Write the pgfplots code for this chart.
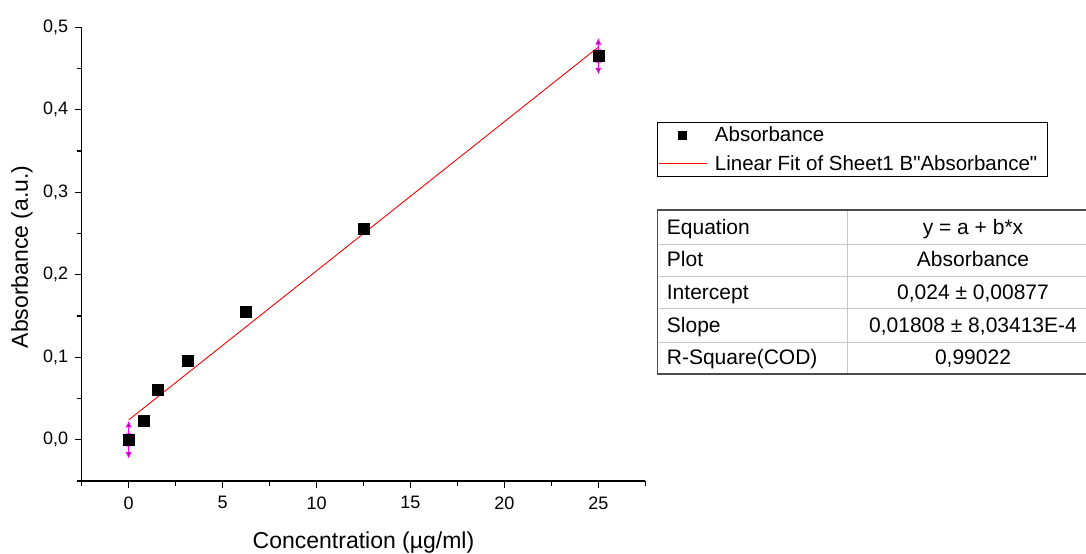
\documentclass[border=0pt]{standalone}
\usepackage{pgfplots}
\pgfplotsset{compat=1.18}
\usepackage{fontspec}
\setmainfont{Liberation Sans}[Ligatures=TeXOff]
\usetikzlibrary{arrows.meta}
\definecolor{outerc}{gray}{0.3}
\definecolor{innerc}{gray}{0.78}
\definecolor{magentaerr}{RGB}{255,0,255}
\definecolor{fitred}{RGB}{255,0,0}
\pgfplotsset{
  scatlegend/.style={legend image code/.code={\draw[mark repeat=2,mark phase=2,mark size=4bp,##1] plot coordinates {(0bp,0bp) (24bp,0bp) (48bp,0bp)};}},
  linelegend/.style={legend image code/.code={\draw[##1, draw=fitred] (0bp,0bp) -- (48bp,0bp);}},
}
\begin{document}
\begin{tikzpicture}
\useasboundingbox (0bp,0bp) rectangle (1086bp,554bp);
\begin{axis}[
  at={(81.7bp,73bp)}, anchor=south west, scale only axis,
  width=563.6bp, height=453.7bp,
  xmin=-2.5, xmax=27.5, ymin=-0.05, ymax=0.5,
  axis lines*=left,
  axis line style={line width=1.4bp, -},
  every tick/.style={black, line width=1.4bp},
  tick align=outside,
  major tick length=7bp, minor tick length=5bp,
  xtick={0,5,10,15,20,25},
  minor xtick={-2.5,2.5,7.5,12.5,17.5,22.5,27.5},
  ytick={0,0.1,0.2,0.3,0.4,0.5},
  minor ytick={-0.05,0.05,0.15,0.25,0.35,0.45},
  /pgf/number format/assume math mode=true,
  ticklabel style={font=\fontsize{18bp}{21bp}\selectfont},
  xticklabel style={yshift=-5bp},
  yticklabel style={xshift=-3bp, /pgf/number format/.cd, use comma, fixed, fixed zerofill, precision=1},
  xlabel={Concentration (µg/ml)},
  ylabel={Absorbance (a.u.)},
  label style={font=\fontsize{23bp}{27bp}\selectfont},
  xlabel style={at={(axis description cs:0.5,-0.135)}, anchor=center},
  ylabel style={at={(axis description cs:-0.106,0.494)}, anchor=center},
  clip=false,
  legend cell align=left,
  legend style={at={(1.0202,0.7919)}, anchor=north west, draw=black, line width=0.8bp,
    font=\fontsize{20.5bp}{24bp}\selectfont, inner xsep=1bp, inner ysep=2bp,
    nodes={inner xsep=2bp, inner ysep=3bp}, row sep=6bp,
    /tikz/every odd column/.append style={column sep=6bp}},
]
\addplot[only marks, mark=square*, mark size=5.5bp, black, scatlegend]
  coordinates {(0,0) (0.78125,0.0234) (1.5625,0.061) (3.125,0.096) (6.25,0.155) (12.5,0.256) (25,0.465)};
\addlegendentry{Absorbance}
\addplot[color=fitred, draw=fitred, line width=0.9bp, mark=none, linelegend]
  coordinates {(0,0.024) (25,0.476)};
\addlegendentry{Linear Fit of Sheet1 B"Absorbance"\hspace*{7bp}}
\addplot[forget plot, only marks, mark=none,
  error bars/.cd, y dir=both, y explicit, error mark=none,
  error bar style={draw=magentaerr, line width=1.2bp, {Latex[length=6.5bp,width=6.5bp]}-{Latex[length=6.5bp,width=6.5bp]}}]
  coordinates {(0,0) +- (0,0.023) (25,0.465) +- (0,0.022)};
\end{axis}
% statistics table
\draw[innerc, line width=1bp] (847.3bp,180bp) -- (847.3bp,344bp);
\foreach \yy in {309.7,277.3,245,211.7} \draw[innerc, line width=1bp] (657.7bp,\yy bp) -- (1099bp,\yy bp);
\draw[outerc, line width=1.3bp] (657.7bp,180bp) rectangle (1099bp,344bp);
\begin{scope}[every node/.style={font=\fontsize{21bp}{25bp}\selectfont, inner sep=0pt}]
\node[anchor=base west] at (666.7bp,319.4bp) {Equation};
\node[anchor=base west] at (666.7bp,287bp) {Plot};
\node[anchor=base west] at (666.7bp,254.7bp) {Intercept};
\node[anchor=base west] at (666.7bp,221.4bp) {Slope};
\node[anchor=base west] at (666.7bp,189.7bp) {R-Square(COD)};
\node[anchor=base] at (973bp,319.4bp) {y = a + b*x};
\node[anchor=base] at (973bp,287bp) {Absorbance};
\node[anchor=base] at (973bp,254.7bp) {0,024 ± 0,00877};
\node[anchor=base] at (973bp,221.4bp) {0,01808 ± 8,03413E-4};
\node[anchor=base] at (973bp,189.7bp) {0,99022};
\end{scope}
\end{tikzpicture}
\end{document}
